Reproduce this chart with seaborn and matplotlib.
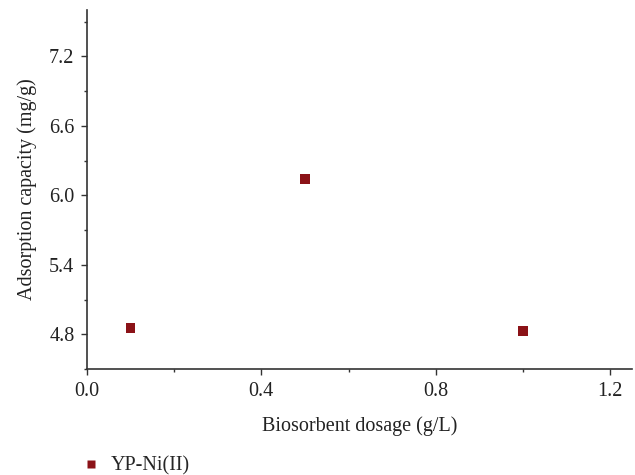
import matplotlib
matplotlib.use("Agg")
import matplotlib.pyplot as plt
from matplotlib.ticker import MultipleLocator
import seaborn as sns
import pandas as pd

# data
dosage = [0.1, 0.5, 1.0]
capacity = [4.855, 6.14, 4.83]
series_name = "YP-Ni(II)"

df = pd.DataFrame({"dosage": dosage, "capacity": capacity, "series": series_name})

sns.set_style("ticks")
plt.rcParams['font.family'] = ['Liberation Serif', 'DejaVu Serif']

fig = plt.figure(figsize=(6.35, 4.75), dpi=100)
ax = fig.add_axes([0.137, 0.223, 0.858, 0.756])

sns.scatterplot(data=df, x="dosage", y="capacity", hue="series", palette=["#8b1217"],
                marker="s", s=45, edgecolor="none", ax=ax, legend=True)

ax.set_xlim(0, 1.25)
ax.set_ylim(4.5, 7.6)
ax.xaxis.set_major_locator(MultipleLocator(0.4))
ax.xaxis.set_minor_locator(MultipleLocator(0.2))
ax.yaxis.set_major_locator(MultipleLocator(0.6))
ax.yaxis.set_minor_locator(MultipleLocator(0.3))
ax.xaxis.set_major_formatter(plt.FuncFormatter(lambda v, p: f"{v:.1f}"))
ax.yaxis.set_major_formatter(plt.FuncFormatter(lambda v, p: f"{v:.1f}"))

for s in ["top", "right"]:
    ax.spines[s].set_visible(False)
for s in ["left", "bottom"]:
    ax.spines[s].set_color("#333333")
    ax.spines[s].set_linewidth(1.2)

ax.tick_params(axis="both", which="major", labelsize=14.5, length=4, width=1, color="#333333",
               labelcolor="#222222", pad=5)
ax.tick_params(axis="both", which="minor", length=2, width=1, color="#333333")

ax.set_xlabel("Biosorbent dosage (g/L)", fontsize=14.5, color="#222222", labelpad=11)
ax.set_ylabel("Adsorption capacity (mg/g)", fontsize=14.5, color="#222222", labelpad=9)

handles, labels = ax.get_legend_handles_labels()
ax.get_legend().remove()
fig.legend(handles, labels, loc="lower left", bbox_to_anchor=(0.083, -0.04), frameon=False,
           fontsize=14.5, handletextpad=0.0, markerscale=0.8)

fig.savefig("out.png", dpi=100)
